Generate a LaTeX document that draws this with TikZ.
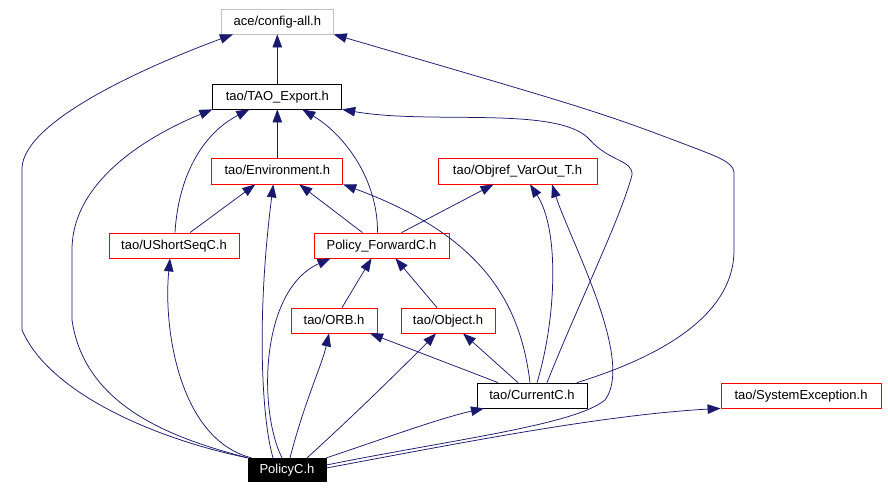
\documentclass[tikz,border=0pt]{standalone}
\usepackage{fontspec}
\setmainfont{Liberation Sans}
\usetikzlibrary{arrows.meta}
\definecolor{edgec}{RGB}{25,25,112}
\definecolor{grayb}{RGB}{191,191,191}
\begin{document}
\begin{tikzpicture}[x=1pt,y=-1pt,
  box/.style={draw=black, rectangle, inner sep=0pt, line width=0.8pt,
    font=\fontsize{13}{15}\selectfont, text height=10pt, text depth=2.5pt},
  redbox/.style={box, draw=red},
  graybox/.style={box, draw=grayb},
  e/.style={draw=edgec, line width=0.75pt, -{Triangle[length=13pt,width=9.5pt]}}]
\useasboundingbox[fill=white] (0,0) rectangle (888,490);

\node[graybox, minimum width=112pt, minimum height=25pt] (cfg) at (277.3,21.5) {ace/config-all.h};
\node[box, minimum width=129pt, minimum height=25pt] (tao) at (277.3,96.5) {tao/TAO\_Export.h};
\node[redbox, minimum width=131pt, minimum height=26pt] (env) at (277.3,171) {tao/Environment.h};
\node[redbox, minimum width=159pt, minimum height=26pt] (objref) at (517.5,171) {tao/Objref\_VarOut\_T.h};
\node[redbox, minimum width=130pt, minimum height=25pt] (ushort) at (174,245.5) {tao/UShortSeqC.h};
\node[redbox, minimum width=135pt, minimum height=25pt] (pfwd) at (381.5,245.5) {Policy\_ForwardC.h};
\node[redbox, minimum width=86pt, minimum height=25pt] (orb) at (334,320.5) {tao/ORB.h};
\node[redbox, minimum width=94pt, minimum height=25pt] (obj) at (448,320.5) {tao/Object.h};
\node[box, minimum width=110pt, minimum height=25pt] (cur) at (532,395.5) {tao/CurrentC.h};
\node[redbox, minimum width=160pt, minimum height=25pt] (sysex) at (801,395.5) {tao/SystemException.h};
\node[box, fill=black, text=white, minimum width=78pt, minimum height=23.5pt] (pol) at (287,470) {PolicyC.h};

% from PolicyC
\draw[e] (pol.north west) .. controls (160,440) and (50,395) .. (22,330) -- (22,168)
  .. controls (24,120) and (150,65) .. ([xshift=12pt]cfg.south west);
\draw[e] (pol.north west) .. controls (180,440) and (85,410) .. (72,320) -- (72,250)
  .. controls (72,180) and (150,135) .. (tao.south west);
\draw[e] ([xshift=4pt]pol.north west) .. controls (180,440) and (163,330) .. ([xshift=-4pt]ushort.south);
\draw[e] ([xshift=-14pt]pol.north) .. controls (262,420) and (256,320) .. ([xshift=-4pt]env.south);
\draw[e] ([xshift=-5pt]pol.north) .. controls (258,410) and (260,290) .. ([xshift=-51pt]pfwd.south);
\draw[e] ([xshift=3pt]pol.north) .. controls (305,400) and (322,365) .. ([xshift=-5pt]orb.south);
\draw[e] ([xshift=20pt]pol.north) .. controls (360,410) and (420,350) .. ([xshift=-12pt]obj.south);
\draw[e] (pol.north east) .. controls (380,440) and (440,418) .. ([xshift=-48pt]cur.south);
\draw[e] ([yshift=5pt]pol.east) .. controls (450,440) and (575,425) .. (605,400)
  .. controls (635,360) and (570,240) .. ([xshift=34.5pt]objref.south);
\draw[e] ([yshift=2pt]pol.east) .. controls (450,445) and (600,415) .. (sysex.south west);

% UShortSeqC
\draw[e] ([xshift=1pt]ushort.north) .. controls (178,180) and (200,135) .. ([xshift=-28pt]tao.south);
\draw[e] ([xshift=16pt]ushort.north) -- ([xshift=-22pt]env.south);

% Policy_ForwardC
\draw[e] ([xshift=-4pt]pfwd.north) .. controls (378,180) and (345,135) .. ([xshift=25pt]tao.south);
\draw[e] ([xshift=-19pt]pfwd.north) -- ([xshift=22pt]env.south);
\draw[e] ([xshift=20pt]pfwd.north) -- ([xshift=-24pt]objref.south);

% ORB, Object
\draw[e] ([xshift=8pt]orb.north) -- ([xshift=-10pt]pfwd.south);
\draw[e] ([xshift=-11pt]obj.north) -- ([xshift=14pt]pfwd.south);

% CurrentC
\draw[e] ([xshift=-34pt]cur.north) -- ([xshift=36pt]orb.south);
\draw[e] ([xshift=-14pt]cur.north) -- ([xshift=15pt]obj.south);
\draw[e] ([xshift=-2pt]cur.north) .. controls (520,300) and (480,235) .. (env.south east);
\draw[e] ([xshift=5pt]cur.north) .. controls (556,320) and (560,230) .. ([xshift=12.5pt]objref.south);
\draw[e] ([xshift=15pt]cur.north) .. controls (580,300) and (620,220) .. (632,175)
  .. controls (633,160) and (610,162) .. (590,140)
  .. controls (560,105) and (430,125) .. (tao.south east);
\draw[e] ([xshift=45pt]cur.north) .. controls (650,360) and (734,320) .. (734,250) -- (734,172)
  .. controls (733,162) and (715,156) .. (700,150)
  .. controls (600,112) .. (cfg.south east);

% vertical chain
\draw[e] (tao) -- (cfg);
\draw[e] (env) -- (tao);
\end{tikzpicture}
\end{document}
